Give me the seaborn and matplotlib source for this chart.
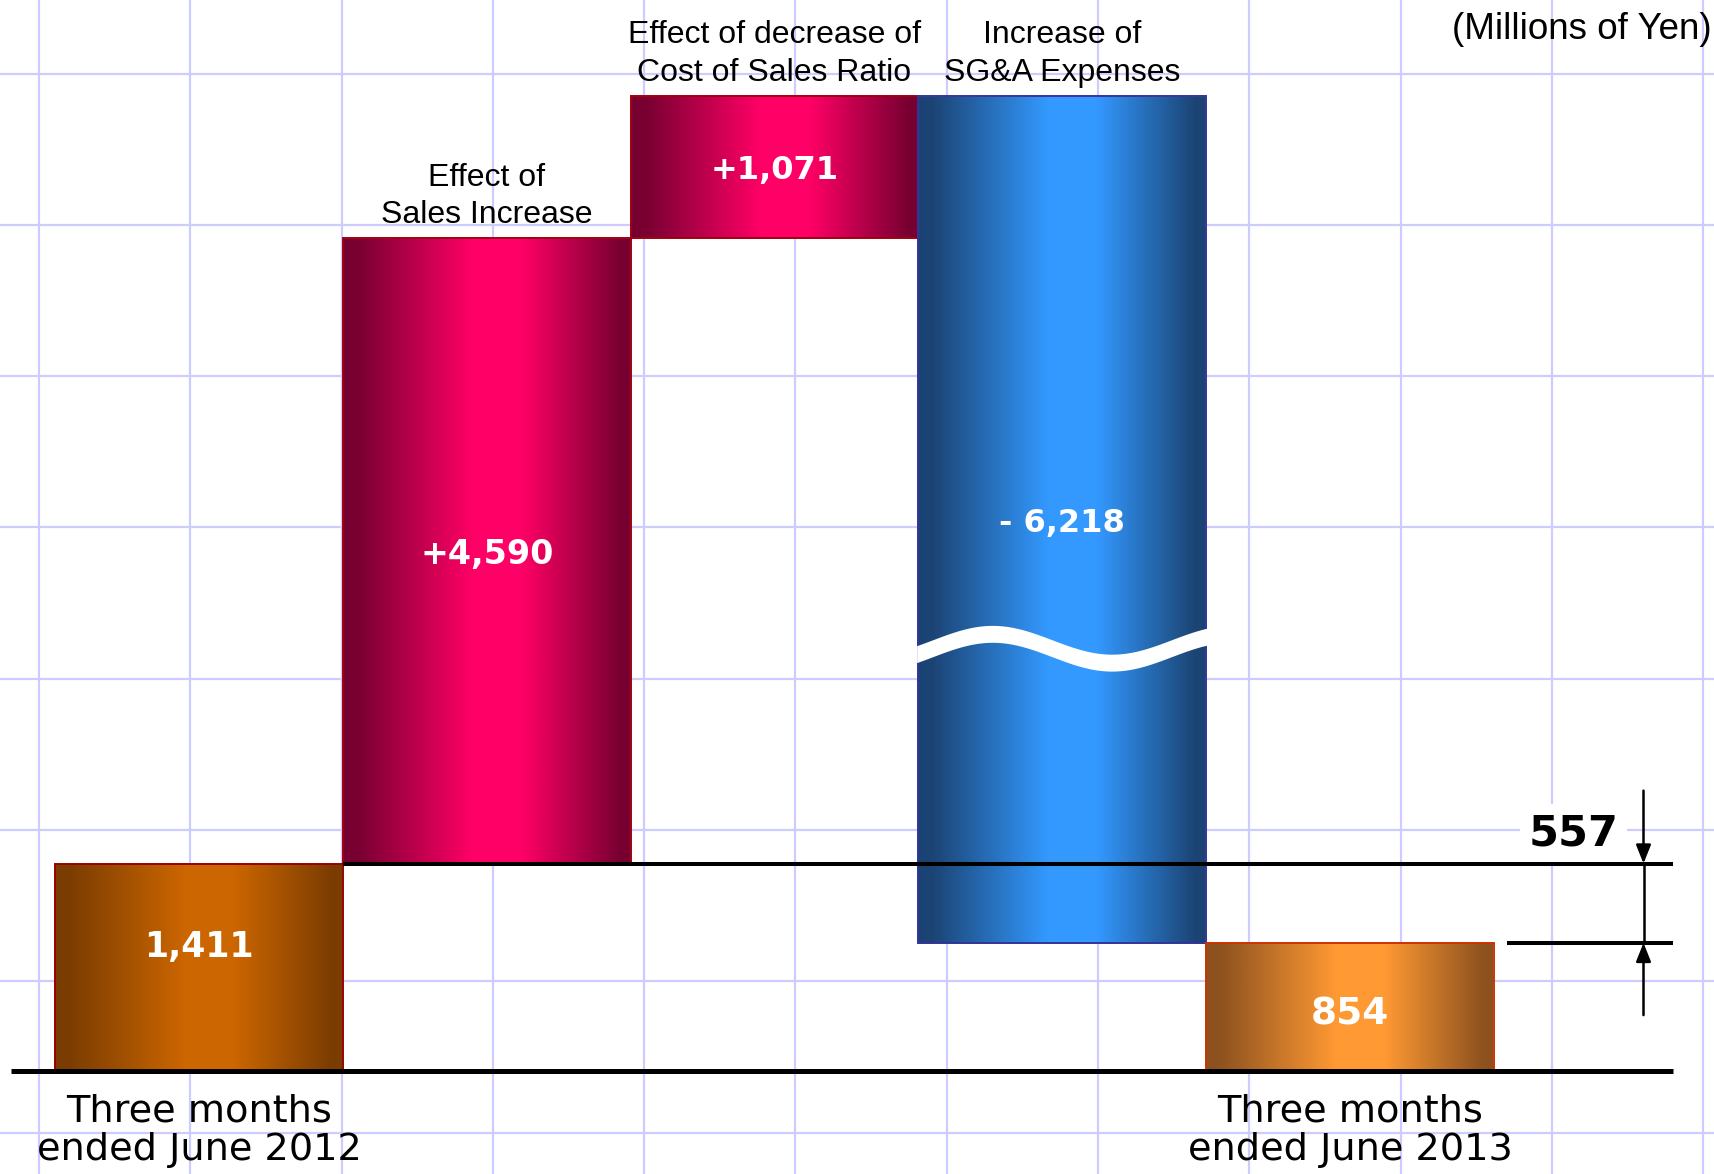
import numpy as np
import pandas as pd
import matplotlib
matplotlib.use("Agg")
import matplotlib.pyplot as plt
import seaborn as sns
from matplotlib.colors import to_rgb

# ---------------- data ----------------
steps = ["FY2012", "Sales", "CostRatio", "SGA", "FY2013"]
step_labels = ["Three months\nended June 2012",
               "Effect of\nSales Increase",
               "Effect of decrease of\nCost of Sales Ratio",
               "Increase of\nSG&A Expenses",
               "Three months\nended June 2013"]
start_profit = 1411
changes = [4590, 1071, -6218]
end_profit = 854
value_labels = ["1,411", "+4,590", "+1,071", "- 6,218", "854"]
unit_label = "(Millions of Yen)"
kinds = ["start", "up", "up", "down", "end"]

# derived waterfall geometry
levels = np.cumsum([start_profit] + changes)          # 1411, 6001, 7072, 854
bottoms = [0] + [min(levels[i], levels[i + 1]) for i in range(len(changes))] + [0]
heights = [start_profit] + [abs(c) for c in changes] + [end_profit]
df = pd.DataFrame({"step": steps, "height": heights})

# ---------------- styles ----------------
palette = {  # dark, bright, edge
    "start": ("#7a3c02", "#cc6600", "#990000"),
    "up":    ("#760030", "#ff0066", "#a00010"),
    "down":  ("#1b4372", "#3399ff", "#33339a"),
    "end":   ("#8c511f", "#ff9933", "#cc3300"),
}
value_sizes = [25, 24, 23, 23, 27]
value_fracs = [0.615, 0.5, 0.5, 0.5, 0.47]

W, H = 1715, 1174
P = 0.96
C = 0.1965  # px per transformed unit


def fwd(v):
    v = np.asarray(v, dtype=float)
    return np.sign(v) * np.abs(v) ** P


def inv(v):
    v = np.asarray(v, dtype=float)
    return np.sign(v) * np.abs(v) ** (1.0 / P)


def gradient(dark, bright, n=256):
    t = np.linspace(0, 1, n)
    m = np.interp(t, [0, 0.05, 0.45, 0.62, 0.96, 1.0], [0, 0.02, 1, 1, 0.02, 0])
    d = np.array(to_rgb(dark))
    b = np.array(to_rgb(bright))
    return (d[None, :] * (1 - m[:, None]) + b[None, :] * m[:, None])[None, :, :]


sns.set_style("white")
plt.rcParams["font.family"] = ["Liberation Sans", "DejaVu Sans"]

fig = plt.figure(figsize=(W / 100, H / 100), dpi=100)
fig.patch.set_facecolor("white")

# background grid paper
bg = fig.add_axes([0, 0, 1, 1], zorder=0)
bg.set_xlim(0, W)
bg.set_ylim(H, 0)
bg.set_xticks(39 + 151.3 * np.arange(12))
bg.set_yticks(73.5 + 151.3 * np.arange(8))
bg.grid(True, color="#ccccff", lw=1.6)
bg.tick_params(length=0, labelbottom=False, labelleft=False)
for s in bg.spines.values():
    s.set_visible(False)

ax = fig.add_axes([0, 0, 1, 1], zorder=1)
ax.patch.set_alpha(0)

sns.barplot(data=df, x="step", y="height", bottom=bottoms, width=1.0,
            errorbar=None, ax=ax, color="white")
patches = list(ax.patches)

ax.set_yscale("function", functions=(fwd, inv))

for p, kind in zip(patches, kinds):
    dark, bright, edge = palette[kind]
    x0, w, y0, h = p.get_x(), p.get_width(), p.get_y(), p.get_height()
    im = ax.imshow(gradient(dark, bright), extent=(x0, x0 + w, y0, y0 + h),
                   aspect="auto", interpolation="bilinear", origin="lower", zorder=2)
    im.set_clip_path(p)
    p.set_facecolor("none")
    p.set_edgecolor(edge)
    p.set_linewidth(1.4)
    p.set_zorder(3)

# break mark on the SG&A bar
pd_ = patches[3]
x0, x1 = pd_.get_x(), pd_.get_x() + pd_.get_width()
fb, ft = fwd(pd_.get_y()), fwd(pd_.get_y() + pd_.get_height())
t = np.linspace(0, 1, 300)
mid = 0.348 + 0.017 * np.cos(2 * np.pi * (t - 0.26) / 0.82)
upper = inv(fb + (mid + 0.010) * (ft - fb))
lower = inv(fb + (mid - 0.010) * (ft - fb))
ax.fill_between(x0 - 0.006 + t * (x1 - x0 + 0.012), lower, upper,
                color="white", lw=0, zorder=4)

# value labels inside bars
for i, p in enumerate(patches):
    b0, b1 = fwd(p.get_y()), fwd(p.get_y() + p.get_height())
    yc = inv(b0 + value_fracs[i] * (b1 - b0))
    ax.text(p.get_x() + p.get_width() / 2, yc, value_labels[i], ha="center",
            va="center_baseline", color="white", fontsize=value_sizes[i],
            fontweight="bold", family="DejaVu Sans", zorder=6)

# category labels
for i, p in enumerate(patches):
    xc = p.get_x() + p.get_width() / 2
    if kinds[i] in ("start", "end"):
        ax.annotate(step_labels[i], xy=(xc, 0), xytext=(0, -16),
                    textcoords="offset points", ha="center", va="top",
                    fontsize=27.5, linespacing=1.1, family="DejaVu Sans",
                    color="black", zorder=6)
    else:
        ax.annotate(step_labels[i], xy=(xc, p.get_y() + p.get_height()),
                    xytext=(0, 6), textcoords="offset points", ha="center",
                    va="bottom", fontsize=23, linespacing=1.32,
                    family="Liberation Sans", color="black", zorder=6)

# reference lines
x_right = 5.123
ax.hlines(0, -0.653, x_right, color="black", lw=3.6, zorder=5)
ax.hlines(start_profit, 0.5, x_right, color="black", lw=2.9, zorder=5)
ax.hlines(end_profit, 4.546, x_right, color="black", lw=2.9, zorder=5)

# difference arrows
xa = 5.02
arrow_kw = dict(arrowstyle="-|>,head_length=0.75,head_width=0.3", color="black",
                lw=1.8, shrinkA=0, shrinkB=0, mutation_scale=15)
ax.annotate("", xy=(xa, start_profit), xytext=(0, 52.5),
            textcoords="offset points", arrowprops=arrow_kw, zorder=5)
ax.annotate("", xy=(xa, end_profit), xytext=(0, -52),
            textcoords="offset points", arrowprops=arrow_kw, zorder=5)
ax.vlines(xa, end_profit, start_profit, color="black", lw=1.8, zorder=5)
ax.annotate(f"{start_profit - end_profit:,}", xy=(4.778, start_profit),
            xytext=(0, 13), textcoords="offset points", ha="center",
            va="baseline", fontsize=31, fontweight="bold", family="DejaVu Sans",
            color="black", zorder=4,
            bbox=dict(boxstyle="square,pad=0.2", fc="white", ec="none"))

fig.text(1712 / W, 1 - 12 / H, unit_label, ha="right", va="top",
         fontsize=26.5, family="Liberation Sans", color="black")

ax.set_xlim(-199 / 287.75, (W - 199) / 287.75)
ax.set_ylim(float(inv(-103 / C)), float(inv(1071 / C)))
ax.set_axis_off()

fig.savefig("out.png", dpi=100)
